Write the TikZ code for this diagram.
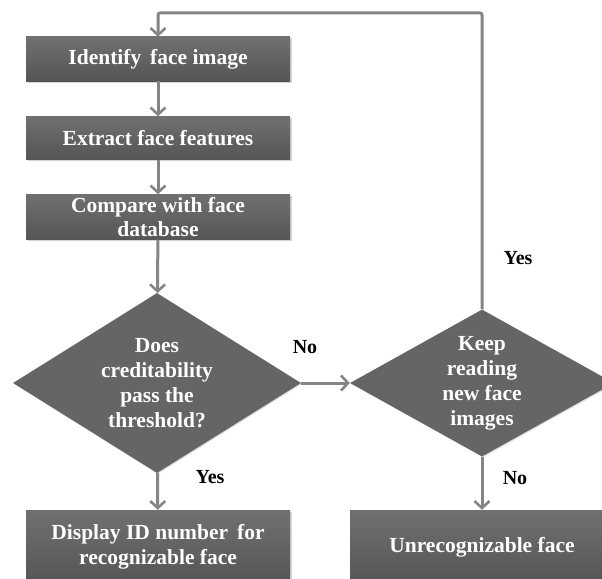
\documentclass[tikz,border=0pt]{standalone}
\usepackage{fontspec}
\setmainfont{Liberation Serif}[BoldFont = {Liberation Serif Bold}]
\usetikzlibrary{shapes.geometric,arrows.meta,shadows}

\definecolor{boxtop}{HTML}{707070}
\definecolor{boxbottom}{HTML}{555555}
\definecolor{linegray}{HTML}{858585}

\tikzset{
  stepbox/.style = {rectangle, minimum width = 264pt, inner sep = 0pt,
                    top color = boxtop, bottom color = boxbottom, draw = none,
                    drop shadow = {opacity = 0.35, shadow xshift = 1.5pt, shadow yshift = -1.5pt},
                    text = white, align = center,
                    font = \rmfamily\bfseries\fontsize{21.5}{24.5}\selectfont},
  decision/.style = {diamond, inner sep = 0pt, aspect = 1.7,
                     fill = boxtop!90!black, draw = none,
                     drop shadow = {opacity = 0.25, shadow xshift = 1pt, shadow yshift = -1pt},
                     text = white, align = center,
                     font = \rmfamily\bfseries\fontsize{21.5}{25}\selectfont},
  flow/.style = {draw = linegray, line width = 3pt,
                 -{Straight Barb[length = 7pt, width = 15pt, line width = 2.6pt]}},
  answer/.style = {font = \rmfamily\bfseries\fontsize{20}{22}\selectfont}
}

\begin{document}
\begin{tikzpicture}[x = {(1pt, 0pt)}, y = {(0pt, -1pt)}]

  \useasboundingbox (0, 0) rectangle (602, 578);

  % steps on the left
  \node[stepbox, minimum height = 44pt] (identify) at (158, 59)  {Identify\, face image};
  \node[stepbox, minimum height = 43pt] (extract)  at (158, 138) {Extract face features};
  \node[stepbox, minimum height = 45pt] (compare)  at (158, 217) {Compare with face\\database};

  % decisions
  \node[decision, minimum width = 288pt, minimum height = 180pt] (pass) at (157, 383)
    {Does\\creditability\\pass the\\threshold?};
  \node[decision, minimum width = 264pt, minimum height = 147pt] (keep) at (482, 383)
    {Keep\\reading\\new face\\images};

  % results
  \node[stepbox, minimum height = 74pt] (display) at (158, 547) {Display ID number\, for\\recognizable face};
  \node[stepbox, minimum height = 74pt] (unknown) at (482, 547) {Unrecognizable face};

  % connectors
  \coordinate (looptop) at (482, 13);
  \draw[flow] (identify) -- (extract);
  \draw[flow] (extract) -- (compare);
  \draw[flow] (compare) -- (pass);
  \draw[flow] (pass) -- (display);
  \draw[flow] (pass) -- (keep);
  \draw[flow] (keep) -- (unknown);
  \draw[flow, rounded corners = 2pt] (keep.north) -- (looptop) -| (identify.north);

  % answers
  \node[answer] (passno)  at (305, 347) {No};
  \node[answer] (passyes) at (210, 477) {Yes};
  \node[answer] (keepyes) at (518, 258) {Yes};
  \node[answer] (keepno)  at (515, 478) {No};
\end{tikzpicture}
\end{document}
